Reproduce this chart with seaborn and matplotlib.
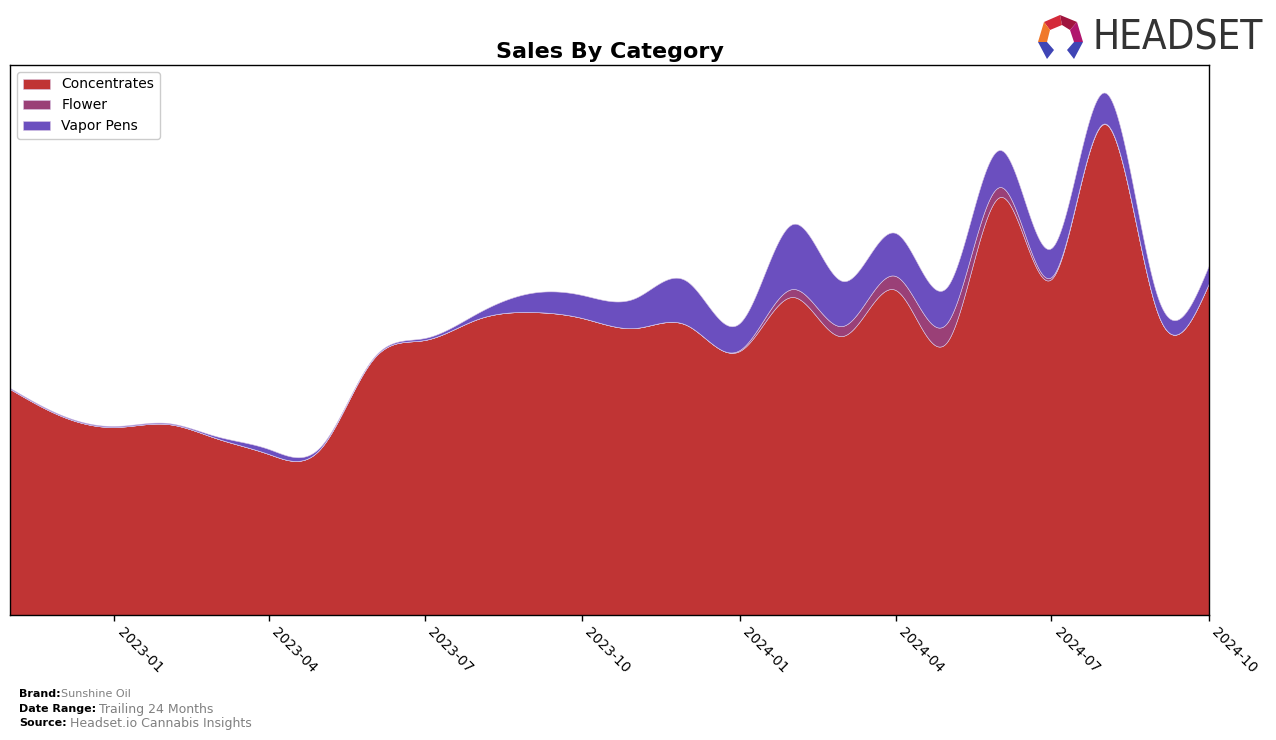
import numpy as np
import pandas as pd
import matplotlib
matplotlib.use("Agg")
import matplotlib.pyplot as plt
import matplotlib.dates as mdates
from matplotlib.patches import Polygon
import seaborn as sns

# ---- data (monthly sales, arbitrary units) ----
months = pd.date_range("2022-11-01", "2024-10-01", freq="MS")
categories = ["Concentrates", "Flower", "Vapor Pens"]
concentrates = [226, 199, 188, 191, 177, 161, 166, 256, 275, 296, 303, 297,
                287, 290, 264, 318, 279, 325, 273, 418, 336, 491, 302, 332]
flower = [0, 0, 0, 0, 0, 0, 0, 0, 0, 0, 0, 0,
          0, 0, 1, 8, 10, 14, 19, 10, 2, 0.5, 0, 0]
vapor_pens = [1, 1, 1, 1, 2, 5, 2, 1, 2, 6, 19, 23,
              30, 44, 27, 65, 45, 43, 36, 37, 29, 31, 16, 18]
colors = ["#C03434", "#9A4077", "#6B4FBF"]
tick_dates = pd.date_range("2023-01-01", "2024-10-01", freq="3MS")


def natural_spline(x, y, xs):
    x = np.asarray(x, float); y = np.asarray(y, float)
    n = len(x)
    h = np.diff(x)
    A = np.zeros((n, n)); b = np.zeros(n)
    A[0, 0] = 1; A[-1, -1] = 1
    for i in range(1, n - 1):
        A[i, i - 1] = h[i - 1]
        A[i, i] = 2 * (h[i - 1] + h[i])
        A[i, i + 1] = h[i]
        b[i] = 3 * ((y[i + 1] - y[i]) / h[i] - (y[i] - y[i - 1]) / h[i - 1])
    c = np.linalg.solve(A, b)
    idx = np.clip(np.searchsorted(x, xs) - 1, 0, n - 2)
    dx = xs - x[idx]
    bb = (y[idx + 1] - y[idx]) / h[idx] - h[idx] * (2 * c[idx] + c[idx + 1]) / 3
    d = (c[idx + 1] - c[idx]) / (3 * h[idx])
    return y[idx] + bb * dx + c[idx] * dx ** 2 + d * dx ** 3


sns.set_style("ticks", {"axes.edgecolor": "black", "xtick.color": "black",
                        "text.color": "black", "axes.labelcolor": "black"})
plt.rcParams["font.family"] = ["DejaVu Sans"]

fig = plt.figure(figsize=(12.76, 7.40), dpi=100)
ax = fig.add_axes([10 / 1276, 1 - 615 / 740, 1199 / 1276, 550 / 740])

xnum = mdates.date2num(months)
xs = np.linspace(xnum[0], xnum[-1], 800)
series = [np.clip(natural_spline(xnum, s, xs), 0, None)
          for s in (concentrates, flower, vapor_pens)]
polys = ax.stackplot(mdates.num2date(xs), *series, labels=categories, colors=colors)
for p in polys:
    p.set_edgecolor("#d9c8e6")
    p.set_linewidth(0.4)

ax.set_xlim(mdates.num2date(xnum[0]), mdates.num2date(xnum[-1]))
ax.set_ylim(0, 550)
ax.set_yticks([])
ax.set_xticks(list(tick_dates))
ax.xaxis.set_major_formatter(mdates.DateFormatter("%Y-%m"))
plt.setp(ax.get_xticklabels(), rotation=-45, ha="left", fontsize=10)
ax.tick_params(axis="x", length=4, width=1, direction="out", pad=3)
for sp in ax.spines.values():
    sp.set_visible(True)
    sp.set_color("black")
    sp.set_linewidth(1)

ax.set_title("Sales By Category", fontsize=16, fontweight="bold", pad=5)
leg = ax.legend(loc="upper left", fontsize=10, frameon=True, framealpha=1,
                edgecolor="#cccccc", borderaxespad=0.5)

# footer
fig.text(19 / 1276, 1 - 694 / 740, "Brand:", fontsize=8, fontweight="bold", va="center")
fig.text(61 / 1276, 1 - 694 / 740, "Sunshine Oil", fontsize=8, color="gray", va="center")
fig.text(19 / 1276, 1 - 709 / 740, "Date Range:", fontsize=8, fontweight="bold", va="center")
fig.text(99 / 1276, 1 - 709 / 740, "Trailing 24 Months", fontsize=9, color="gray", va="center")
fig.text(19 / 1276, 1 - 723 / 740, "Source:", fontsize=8, fontweight="bold", va="center")
fig.text(70 / 1276, 1 - 723 / 740, "Headset.io Cannabis Insights", fontsize=9, color="gray", va="center")

# logo
fig.text(1092 / 1276, 1 - 39 / 740, "HEADSET", fontsize=29, color="#333333",
         va="center", ha="left", family="DejaVu Sans", fontstretch="condensed")


def pt(px, py):
    return (px / 1276, 1 - py / 740)


logo_shapes = [
    ([(1044, 22), (1060, 15), (1062, 25), (1050, 30)], "#D42A3A"),
    ([(1060, 15), (1077, 22), (1070, 30), (1062, 25)], "#A0153E"),
    ([(1077, 22), (1083, 42), (1074, 42), (1070, 30)], "#B0166E"),
    ([(1044, 22), (1050, 30), (1047, 42), (1038, 42)], "#F0782A"),
    ([(1038, 42), (1047, 42), (1054, 50), (1047, 59)], "#3F45B5"),
    ([(1083, 42), (1074, 42), (1067, 50), (1074, 59)], "#3F45B5"),
]
for pts_, col in logo_shapes:
    fig.patches.append(Polygon([pt(*p) for p in pts_], closed=True,
                               transform=fig.transFigure, facecolor=col,
                               edgecolor="none"))

fig.savefig("out.png", dpi=100)
